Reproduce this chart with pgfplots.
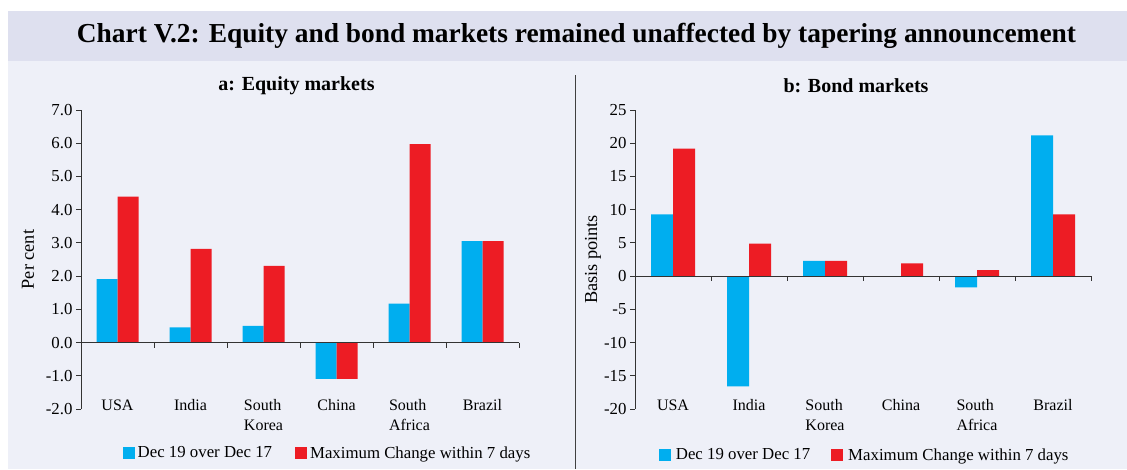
\documentclass[border=0pt]{standalone}
\usepackage{fontspec}
\setmainfont{Liberation Serif}
\usepackage{pgfplots}
\pgfplotsset{compat=1.18}
\definecolor{barblue}{HTML}{00AEEF}
\definecolor{barred}{HTML}{ED1C24}
\definecolor{band}{HTML}{DEE0EF}
\definecolor{panel}{HTML}{EEF0F8}
\newcommand{\fs}{\fontsize{16.8}{19.5}\selectfont}
\pgfplotsset{
 mybar/.style={
  scale only axis, ybar=0pt, clip=false,
  xmin=-0.5, xmax=5.5, height=299pt,
  axis y line*=left, axis x line*=bottom, x axis line style={draw=none},
  xtick={0,...,5}, xticklabels={USA,India,South\\Korea,China,South\\Africa,Brazil},
  xticklabel style={align=left, anchor=north, yshift=18pt, font=\fontsize{16}{19.5}\selectfont},
  major x tick style={draw=none},
  yticklabel style={font=\fs},
  tick align=outside, major tick length=5pt,
  /pgf/number format/assume math mode=true,
  axis line style={black!80, line width=0.8pt},
  major y tick style={black!80, line width=0.8pt},
  ylabel style={font=\fontsize{18.3}{21}\selectfont, anchor=center},
  legend style={draw=none, fill=none, legend columns=2, font=\fs,
     /tikz/every even column/.append style={column sep=20pt},
     nodes={inner xsep=3pt}},
  legend image code/.code={\fill[##1] (0pt,-6pt) rectangle (12pt,6pt);},
 }
}
\begin{document}
\begin{tikzpicture}[x=1pt,y=1pt]
\path (0,0) rectangle (1127,469);
\fill[band] (8,408) rectangle (1127,458);
\fill[panel] (8,0) rectangle (1127,408);
\draw[black!75, line width=1.5pt] (575.5,0) -- (575.5,394);
\node[font=\bfseries\fontsize{27.4}{30}\selectfont] at (576.5,433) {Chart V.2: Equity and bond markets remained unaffected by tapering announcement};
\node[font=\bfseries\fontsize{20}{24}\selectfont] at (296.5,383) {a: Equity markets};
\node[font=\bfseries\fontsize{20}{24}\selectfont] at (856,383) {b: Bond markets};

\begin{axis}[mybar, at={(81pt,60pt)}, anchor=south west, width=438pt, bar width=21pt,
  ymin=-2, ymax=7, ytick={-2,-1,...,7},
  yticklabel style={/pgf/number format/.cd, fixed, fixed zerofill, precision=1},
  ylabel={Per cent}, ylabel style={at={(axis description cs:-0.121,0.5)}},
  legend style={at={(axis description cs:0.564,-0.147)}, anchor=center}]
\addplot[fill=barblue, draw=none] coordinates {(0,1.91) (1,0.46) (2,0.5) (3,-1.09) (4,1.17) (5,3.05)};
\addplot[fill=barred, draw=none] coordinates {(0,4.39) (1,2.82) (2,2.31) (3,-1.09) (4,5.97) (5,3.05)};
\legend{Dec 19 over Dec 17, Maximum Change within 7 days}
\draw[black!80, line width=0.8pt] (axis cs:-0.5,0) -- (axis cs:5.5,0);
\pgfplotsinvokeforeach{0.5,1.5,2.5,3.5,4.5,5.5}{\draw[black!80, line width=0.8pt] (axis cs:#1,0) -- ++(0pt,-5pt);}
\end{axis}

\begin{axis}[mybar, at={(635pt,60pt)}, anchor=south west, width=456pt, bar width=22pt,
  ymin=-20, ymax=25, ytick={-20,-15,...,25},
  ylabel={Basis points}, ylabel style={at={(axis description cs:-0.092,0.5)}},
  legend style={at={(axis description cs:0.507,-0.154)}, anchor=center, nodes={inner xsep=5pt},
     /tikz/every even column/.append style={column sep=16pt}}]
\addplot[fill=barblue, draw=none] coordinates {(0,9.3) (1,-16.6) (2,2.3) (3,0) (4,-1.7) (5,21.2)};
\addplot[fill=barred, draw=none] coordinates {(0,19.2) (1,4.9) (2,2.3) (3,1.9) (4,0.9) (5,9.3)};
\legend{Dec 19 over Dec 17, Maximum Change within 7 days}
\draw[black!80, line width=0.8pt] (axis cs:-0.5,0) -- (axis cs:5.5,0);
\pgfplotsinvokeforeach{0.5,1.5,2.5,3.5,4.5,5.5}{\draw[black!80, line width=0.8pt] (axis cs:#1,0) -- ++(0pt,-5pt);}
\end{axis}
\end{tikzpicture}
\end{document}
